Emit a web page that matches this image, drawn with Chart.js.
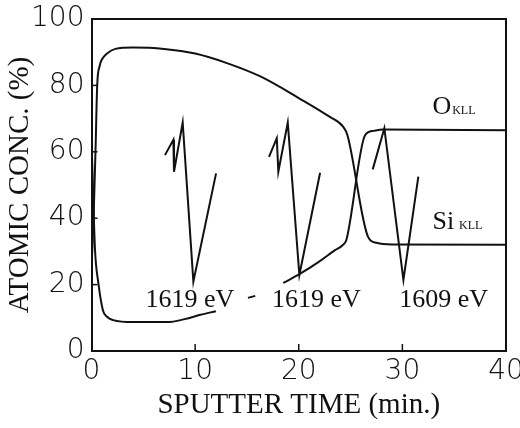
<!DOCTYPE html>
<html>
<head>
<meta charset="utf-8">
<script src="https://cdn.jsdelivr.net/npm/chart.js@4"></script>
<style>
  body { margin: 0; background: #fff; }
  canvas { display: block; }
</style>
</head>
<body>
<canvas id="chart" width="520" height="428"></canvas>
<script>
// sputter time (min) and atomic concentration (%)
const oTime = [0, 0.2, 0.4, 0.55, 0.8, 1.0, 1.5, 2.3, 4, 7, 10, 13, 16.3, 20, 23, 24.3, 24.7, 26.7, 27.5, 29, 40];
const oConc = [25, 40, 62, 80, 86, 87.8, 89.6, 91, 91.4, 91, 89.6, 86.8, 82.7, 76.2, 70.5, 67.5, 65, 34.3, 32.6, 32.1, 32];

const siTime = [0, 0.15, 0.34, 0.66, 1.1, 1.5, 2.1, 4, 7.3, 9, 10.5, 12, 13, 15.1, 15.8, 17, 18.5, 20.1, 22, 23.5, 24.2, 24.6, 26.4, 27.2, 28.1, 40];
const siConc = [64, 48, 30.4, 20.5, 12.3, 10.3, 9.3, 8.7, 8.7, 9.6, 10.9, 12, null, 16.0, 16.6, null, 20.5, 23.2, 27, 30.4, 31.8, 33.5, 65, 66.3, 66.7, 66.5];

// the three little Si KLL spectra drawn inside the plot
const spec1T = [7.09, 7.9, 7.96, 8.8, 9.83, 12.02];
const spec1Y = [59.0, 63.6, 54.0, 68.8, 20.9, 53.5];
const spec2T = [17.13, 17.88, 18.03, 18.94, 20.06, 22.06];
const spec2Y = [58.5, 64.1, 54.0, 68.8, 22.9, 53.7];
const spec3T = [27.14, 28.26, 30.1, 31.54];
const spec3Y = [54.7, 67.1, 21.4, 52.5];

const peakLabels = ["1619 eV", "1619 eV", "1609 eV"];
const peakLabelT = [9.5, 21.7, 33.98];
const peakLabelY = [15.4, 15.4, 15.4];

const xTicks = [0, 10, 20, 30, 40];
const yTicks = [0, 20, 40, 60, 80, 100];

function pts(t, y) {
  return t.map((v, i) => ({ x: v, y: y[i] }));
}

const ink = "#111";

function curve(t, y, smooth) {
  return {
    data: pts(t, y),
    borderColor: ink,
    borderWidth: 2,
    pointRadius: 0,
    fill: false,
    spanGaps: false,
    cubicInterpolationMode: smooth ? "monotone" : "default",
    tension: 0,
  };
}

const extras = {
  id: "extras",
  afterDraw(chart) {
    const ctx = chart.ctx;
    const a = chart.chartArea;
    const xs = chart.scales.x;
    const ys = chart.scales.y;
    ctx.save();
    ctx.strokeStyle = ink;
    ctx.lineWidth = 2;
    // top and right edges of the frame
    ctx.beginPath();
    ctx.moveTo(a.left, a.top);
    ctx.lineTo(a.right, a.top);
    ctx.lineTo(a.right, a.bottom);
    ctx.stroke();
    // inward ticks
    ctx.lineWidth = 1.5;
    yTicks.slice(1, -1).forEach((v) => {
      const py = ys.getPixelForValue(v);
      ctx.beginPath();
      ctx.moveTo(a.left, py);
      ctx.lineTo(a.left + 6, py);
      ctx.stroke();
    });
    xTicks.slice(1, -1).forEach((v) => {
      const px = xs.getPixelForValue(v);
      ctx.beginPath();
      ctx.moveTo(px, a.bottom);
      ctx.lineTo(px, a.bottom - 7);
      ctx.stroke();
    });
    // peak energy labels
    ctx.fillStyle = ink;
    ctx.font = "26px 'Liberation Serif'";
    ctx.textAlign = "center";
    ctx.textBaseline = "middle";
    peakLabels.forEach((s, i) => {
      ctx.fillText(s, xs.getPixelForValue(peakLabelT[i]), ys.getPixelForValue(peakLabelY[i]));
    });
    // series names
    ctx.textAlign = "left";
    ctx.textBaseline = "alphabetic";
    const names = [["O", 73.9], ["Si", 39.3]];
    names.forEach(([s, v]) => {
      const px = xs.getPixelForValue(32.9);
      const base = ys.getPixelForValue(v) + 8.5;
      ctx.font = "26px 'Liberation Serif'";
      ctx.fillText(s, px, base);
      const w = ctx.measureText(s).width;
      ctx.font = "12px 'Liberation Serif'";
      ctx.fillText("KLL", px + w + (s === "Si" ? 5 : 1), base);
    });
    ctx.restore();
  },
};

new Chart(document.getElementById("chart"), {
  type: "line",
  data: {
    datasets: [
      curve(oTime, oConc, true),
      curve(siTime, siConc, true),
      curve(spec1T, spec1Y, false),
      curve(spec2T, spec2Y, false),
      curve(spec3T, spec3Y, false),
    ],
  },
  options: {
    responsive: false,
    animation: false,
    devicePixelRatio: 1,
    layout: { padding: { top: 19, right: 14, left: 0, bottom: 0 } },
    plugins: { legend: { display: false }, tooltip: { enabled: false } },
    scales: {
      x: {
        type: "linear",
        min: 0,
        max: 40,
        afterBuildTicks: (s) => { s.ticks = xTicks.map((v) => ({ value: v })); },
        afterFit: (s) => { s.height = 77; s.paddingLeft = 0; s.paddingRight = 0; },
        grid: { display: false, drawTicks: false },
        border: { display: true, color: ink, width: 2 },
        ticks: {
          color: ink,
          padding: 4,
          maxRotation: 0,
          font: { family: "'DejaVu Sans'", size: 28, weight: 200 },
        },
        title: {
          display: true,
          text: "SPUTTER TIME (min.)",
          color: ink,
          font: { family: "'Liberation Serif'", size: 29 },
          padding: { top: 0, bottom: 5 },
        },
      },
      y: {
        min: 0,
        max: 100,
        afterBuildTicks: (s) => { s.ticks = yTicks.map((v) => ({ value: v })); },
        afterFit: (s) => { s.width = 91.5; s.paddingTop = 0; s.paddingBottom = 0; },
        grid: { display: false, drawTicks: false },
        border: { display: true, color: ink, width: 2 },
        ticks: {
          color: ink,
          padding: 7,
          font: { family: "'DejaVu Sans'", size: 28, weight: 200 },
        },
        title: {
          display: true,
          text: "ATOMIC CONC. (%)",
          color: ink,
          font: { family: "'Liberation Serif'", size: 29 },
          padding: { top: 3, bottom: 0 },
        },
      },
    },
  },
  plugins: [extras],
});
</script>
</body>
</html>
